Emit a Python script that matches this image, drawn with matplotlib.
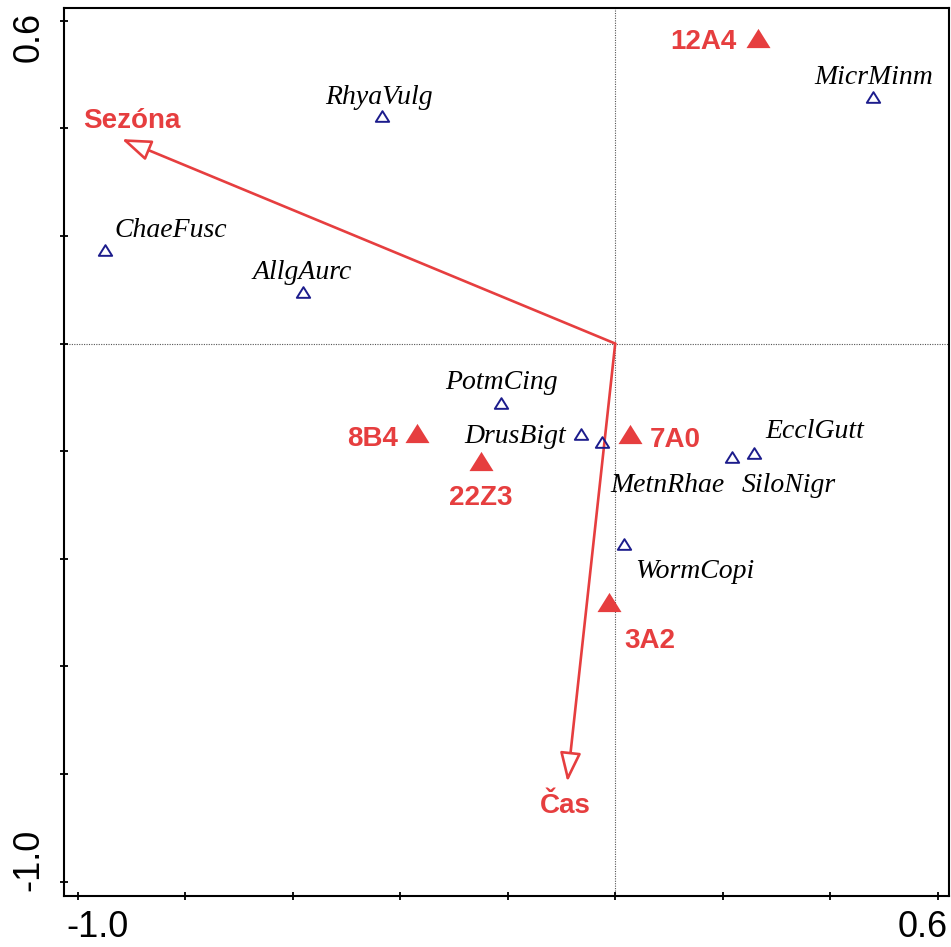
import numpy as np
import matplotlib
matplotlib.use("Agg")
import matplotlib.pyplot as plt
from matplotlib.path import Path
from matplotlib.transforms import blended_transform_factory

# species scores (open triangles)
species = ["RhyaVulg", "MicrMinm", "ChaeFusc", "AllgAurc", "PotmCing",
           "DrusBigt", "MetnRhae", "SiloNigr", "EcclGutt", "WormCopi"]
species_x = [-0.434, 0.480, -0.950, -0.581, -0.212, -0.063, -0.025, 0.218, 0.259, 0.017]
species_y = [0.422, 0.459, 0.174, 0.095, -0.111, -0.168, -0.183, -0.211, -0.203, -0.372]

# sample scores (filled triangles)
samples = ["12A4", "8B4", "7A0", "22Z3", "3A2"]
sample_x = [0.266, -0.368, 0.028, -0.250, -0.012]
sample_y = [0.568, -0.166, -0.168, -0.218, -0.480]

# environmental variables (arrows from origin)
env = ["Sezóna", "Čas"]
env_x = [-0.918, -0.089]
env_y = [0.380, -0.8145]

ticks = np.arange(-1.0, 0.61, 0.2)

# label placement, pixels from the mark (baseline aligned)
species_off = [(-3, 12), (0, 13), (66, 13), (-1, 13), (0, 14),
               (-66, -9.5), (66, -49.5), (56, -34.7), (60, 14.4), (70, -34.5)]
sample_off = [(-54.5, -10.6), (-45, -13), (45, -13), (0, -44), (41, -46)]
env_off = [(10, 11), (-2, -31.6)]

red = "#E63E3F"
navy = "#1C1C8C"

# flattened triangle marker
tri = Path([(-1, -0.8), (1, -0.8), (0, 0.8), (-1, -0.8)],
           [Path.MOVETO, Path.LINETO, Path.LINETO, Path.CLOSEPOLY])

fig = plt.figure(figsize=(9.51, 9.47), dpi=100)
ax = fig.add_axes([64 / 951, 51 / 947, 885 / 951, 888 / 947])
ax.set_xlim(-1.0255, 0.621)
ax.set_ylim(-1.0266, 0.6236)

ax.axvline(0, color="#555555", lw=0.8, ls=(0, (1, 1.2)), zorder=1)
ax.axhline(0, color="#555555", lw=0.8, ls=(0, (1, 1.2)), zorder=1)

for name, x, y, (dx, dy) in zip(env, env_x, env_y, env_off):
    ax.annotate("", xy=(x, y), xytext=(0, 0),
                arrowprops=dict(arrowstyle="-|>,head_length=1.8,head_width=0.65",
                                mutation_scale=10, fc="white", ec=red, lw=1.9,
                                shrinkA=0, shrinkB=0), zorder=3)
    ax.annotate(name, xy=(x, y), xytext=(dx, dy), textcoords="offset pixels",
                ha="center", va="baseline", color=red, fontsize=20,
                fontweight="bold", family="Liberation Sans")

ax.plot(species_x, species_y, ls="none", marker=tri, ms=9.6, mfc="none",
        mec=navy, mew=1.4, zorder=4)
for name, x, y, (dx, dy) in zip(species, species_x, species_y, species_off):
    ax.annotate(name, xy=(x, y), xytext=(dx, dy), textcoords="offset pixels",
                ha="center", va="baseline", fontsize=20, style="italic",
                family="Liberation Serif", color="black")

ax.plot(sample_x, sample_y, ls="none", marker=tri, ms=17.3, mfc=red,
        mec="none", zorder=5)
for name, x, y, (dx, dy) in zip(samples, sample_x, sample_y, sample_off):
    ax.annotate(name, xy=(x, y), xytext=(dx, dy), textcoords="offset pixels",
                ha="center", va="baseline", color=red, fontsize=20,
                fontweight="bold", family="Liberation Sans")

ax.set_xticks(ticks)
ax.set_yticks(ticks)
ax.set_xticklabels([])
ax.set_yticklabels([])
ax.tick_params(direction="inout", length=6, width=1.3)
for sp in ax.spines.values():
    sp.set_linewidth(1.5)

# only the end ticks are labelled
tx = blended_transform_factory(ax.transData, ax.transAxes)
ty = blended_transform_factory(ax.transAxes, ax.transData)
tick_font = dict(fontsize=26, family="Liberation Sans", va="center", ha="center")
ax.text(-0.964, -0.036, "-1.0", transform=tx, **tick_font)
ax.text(0.5726, -0.036, "0.6", transform=tx, **tick_font)
ax.text(-0.0395, 0.569, "0.6", transform=ty, rotation=90, **tick_font)
ax.text(-0.0395, -0.960, "-1.0", transform=ty, rotation=90, **tick_font)

fig.savefig("out.png", dpi=100)
